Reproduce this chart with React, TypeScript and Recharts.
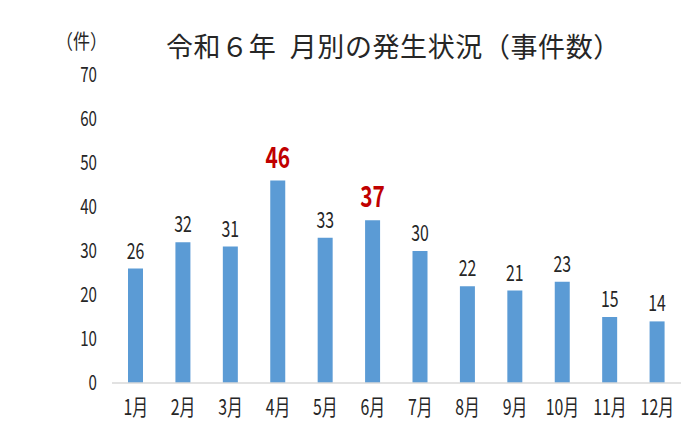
import React from 'react';
import { BarChart, Bar, XAxis, YAxis, LabelList } from 'recharts';

const months = ['1月', '2月', '3月', '4月', '5月', '6月', '7月', '8月', '9月', '10月', '11月', '12月'];
const cases = [26, 32, 31, 46, 33, 37, 30, 22, 21, 23, 15, 14];
const highlighted = [46, 37];
const yTicks = [0, 10, 20, 30, 40, 50, 60, 70];

const data = months.map((m, i) => ({ month: m, cases: cases[i] }));

const font = '"Noto Sans CJK JP", sans-serif';
const ink = '#262626';

// narrow text, the original uses a condensed face
function Narrow({ x, y, anchor, size, fill, weight, children }: any) {
  return (
    <text
      transform={`translate(${x},${y}) scale(0.72,1)`}
      textAnchor={anchor}
      fill={fill}
      fontSize={size}
      fontWeight={weight}
      fontFamily={font}
    >
      {children}
    </text>
  );
}

function ValueLabel(props: any) {
  const { x, y, width, value } = props;
  const hot = highlighted.includes(value);
  return (
    <Narrow x={x + width / 2} y={y - (hot ? 13 : 10)} anchor="middle" size={hot ? 29 : 22} fill={hot ? '#C00000' : ink} weight={hot ? 'bold' : 'normal'}>
      {value}
    </Narrow>
  );
}

function XTick(props: any) {
  const { x, y, payload } = props;
  return (
    <Narrow x={x} y={y + 24} anchor="middle" size={22} fill={ink}>
      {payload.value}
    </Narrow>
  );
}

function YTick(props: any) {
  const { x, y, payload } = props;
  return (
    <Narrow x={x} y={y + 7} anchor="end" size={21} fill={ink}>
      {payload.value}
    </Narrow>
  );
}

export default function App() {
  return (
    <div style={{ position: 'absolute', left: 0, top: 0, width: 700, height: 433, background: '#fff' }}>
      <div style={{ position: 'absolute', left: 56, top: 26, fontSize: 20, fontFamily: font, color: ink, transform: 'scaleX(0.85)', transformOrigin: 'left' }}>
        （件）
      </div>
      <div style={{ position: 'absolute', left: 166, top: 26, fontSize: 27, fontFamily: font, color: ink, whiteSpace: 'pre', letterSpacing: 0.6 }}>
        令和６年  月別の発生状況（事件数）
      </div>
      <BarChart width={700} height={433} data={data} margin={{ top: 75, right: 19, bottom: 20, left: 0 }}>
        <XAxis
          dataKey="month"
          height={30}
          tickLine={false}
          axisLine={{ stroke: '#d9d9d9', strokeWidth: 1.5 }}
          tick={XTick}
          interval={0}
        />
        <YAxis
          width={112}
          domain={[0, 70]}
          ticks={yTicks}
          axisLine={false}
          tickLine={false}
          tickSize={0}
          tickMargin={15}
          tick={YTick}
        />
        <Bar dataKey="cases" fill="#5B9BD5" barSize={15} isAnimationActive={false}>
          <LabelList dataKey="cases" content={ValueLabel} />
        </Bar>
      </BarChart>
    </div>
  );
}
